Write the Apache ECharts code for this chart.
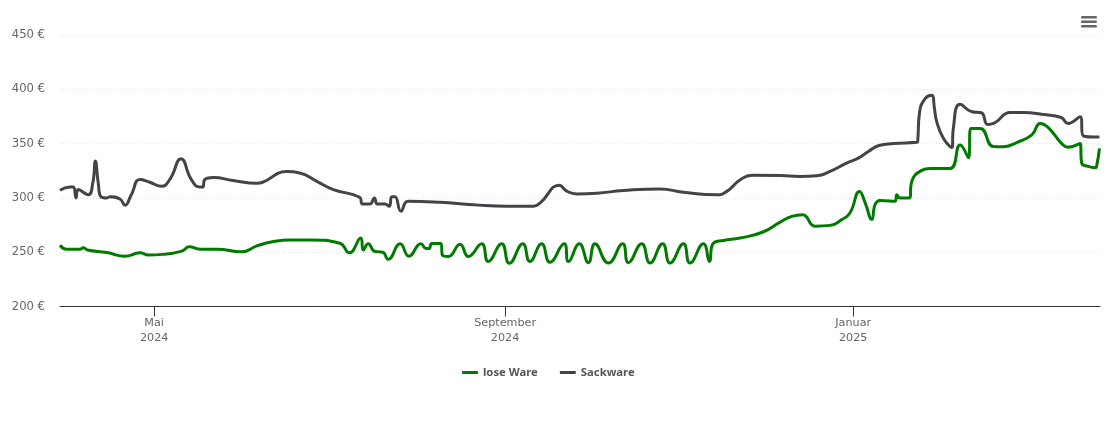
<!DOCTYPE html>
<html>
<head>
<meta charset="utf-8">
<style>
html,body{margin:0;padding:0;background:#fff;}
#chart{width:1110px;height:423px;}
</style>
<script src="https://cdn.jsdelivr.net/npm/echarts@6/dist/echarts.min.js"></script>
</head>
<body>
<div id="chart"></div>
<script>
// x axis runs in days since 2024-03-29
var lastDay = 364.5;

var tickDays = [33, 156, 278];
var tickLabels = ['Mai\n2024', 'September\n2024', 'Januar\n2025'];

var loseDays = [0, 2.3, 7, 8.2, 9.6, 16.4, 22.8, 28, 31, 36, 42.7, 45.3, 49, 55, 63.7, 69, 74.8, 80.6, 87.6, 98,
	101.4, 105.4, 106.3, 108, 110.4, 113.1, 115, 119.2, 122.3, 126.5, 128.3, 129.4, 130.3, 133.5, 134.1, 136.1,
	140.2, 143.1, 147.8, 150.1, 154.8, 157.5, 162.2, 164.7, 168.8, 171.7, 176.7, 178.2, 182, 185.2, 187.5, 192.2,
	197.2, 199.2, 203.9, 206.8, 211.2, 213.8, 218.5, 220.8, 225.5, 227.6, 228.8, 232.5, 238.3, 246.4, 252.4, 256.5,
	260.3, 264.6, 269.9, 274, 276.9, 280.2, 282.2, 284.5, 285.7, 287.4, 292.7, 293.3, 294.4, 297.7, 298.5, 302,
	304.9, 311.9, 315.5, 318.4, 319.2, 322.5, 327.1, 330.5, 335.3, 340.6, 343.5, 346.3, 351.1, 353.3, 357.5, 358.1,
	360.3, 362.8, 363.4, 364.3];
var loseValues = [256.4, 252.8, 252.8, 254, 252, 249.7, 246.3, 249.4, 247.5, 248, 251, 255, 252.8, 252.8, 250.3, 255.8, 259.8, 261.3, 261.3, 258.3,
	249.4, 263, 252, 257.7, 250.6, 250, 243.5, 257.7, 246.3, 257.7, 253.4, 253.4, 258, 258, 247, 246,
	257.4, 246, 257.7, 241.4, 257.7, 239.8, 257.7, 241.4, 257.7, 240.7, 257.7, 241.4, 257.7, 240.4, 257.7, 240,
	257.7, 240.4, 257.7, 240, 257.7, 240, 257.7, 240, 257.7, 241.4, 257.7, 260.8, 263, 268.6, 277.7, 283,
	284.5, 274, 274.7, 280, 286.3, 306, 295.4, 280, 294, 297.6, 297, 303, 300, 300, 315, 325.3,
	327, 327, 348.8, 337, 364, 364, 347.3, 347, 351, 358, 368.6, 365, 350, 346.6, 350, 332,
	329, 327.7, 330.5, 345.7];

var sackDays = [0, 3.5, 4.7, 5.6, 6.4, 9.9, 11.5, 12.4, 13.4, 14.4, 16.4, 17.5, 21, 22.8, 25, 28, 31.5, 35.6, 38.6, 42.4,
	46, 49, 50, 50.8, 53.7, 60.7, 69, 71, 79.4, 84, 90, 95.8, 105, 106, 108.6, 110.2, 111.2, 113.9, 115.4, 116.3,
	117.4, 119.5, 122, 133.2, 144.8, 156.6, 165.9, 168.3, 175, 177.6, 181.1, 188.1, 197.4, 210.3, 218.4, 230.2, 233.7, 238.3, 242.5, 252.4,
	259.4, 265.2, 269.9, 275.7, 279.8, 283.3, 286.8, 292.1, 300.3, 300.6, 301.2, 303.2, 305.7, 306.4, 307.3, 309.6, 312.6, 313.1, 315.5, 319.6,
	322.9, 325.1, 327.2, 333, 337.6, 344.6, 350.9, 353.3, 357.5, 358.7, 364.3];
var sackValues = [307, 310, 310, 300, 307.7, 303, 313.8, 334, 313.8, 301, 300, 301, 299, 293.3, 303, 317, 314.4, 310.7, 317.5, 336,
	317, 310, 310, 317, 318.7, 316, 313.5, 314.4, 324.2, 323, 315.3, 307.7, 300.6, 294.4, 294.4, 300, 294.4, 294.4, 292.3, 301,
	301, 287.7, 297, 296, 293.8, 292.3, 292.3, 295.4, 311.7, 306.2, 303.7, 304.3, 306.8, 308.3, 305.2, 302.8, 306, 316.4, 320.9, 320.7,
	319.8, 320.4, 324.4, 332, 336.6, 342.7, 348, 350, 351.2, 351.8, 377.7, 391.5, 394.5, 383.8, 370, 355, 346.3, 364, 386.3, 379.3,
	378.4, 367.7, 368.6, 378.7, 378.7, 376.8, 374, 368.6, 374.7, 357, 356];

function pairs(days, values) {
	return days.map(function(d, i) { return [d, values[i]]; });
}

var fontName = '"DejaVu Sans", sans-serif';
var chartObj = echarts.init(document.getElementById('chart'));
var option = {
	animation: false,
	backgroundColor: '#fff',
	color: ['#007a00', '#434348'],
	grid: {left: 60, right: 10, top: 35, bottom: 116.5},
	legend: {
		top: 362,
		left: 457,
		icon: 'roundRect',
		itemWidth: 16,
		itemHeight: 3,
		itemGap: 22,
		textStyle: {color: '#555', fontSize: 11.3, fontWeight: 'bold', fontFamily: '"Noto Sans", sans-serif', padding: [-1, 0, 0, 0]}
	},
	xAxis: {
		type: 'value',
		min: 0,
		max: lastDay,
		axisLine: {onZero: false, lineStyle: {color: '#333', width: 1}},
		axisTick: {show: true, length: 10, customValues: tickDays, lineStyle: {color: '#333', width: 1}},
		splitLine: {show: false},
		axisLabel: {
			customValues: tickDays,
			hideOverlap: false,
			color: '#666',
			fontSize: 11.2,
			lineHeight: 15,
			margin: 9,
			fontFamily: fontName,
			formatter: function(value) {
				return tickLabels[tickDays.indexOf(value)] || '';
			}
		}
	},
	yAxis: {
		type: 'value',
		min: 200,
		max: 450,
		interval: 50,
		axisLine: {show: false},
		axisTick: {show: false},
		splitLine: {lineStyle: {color: '#e3e3e3', type: [1, 2], width: 1}},
		axisLabel: {
			color: '#666',
			fontSize: 11.6,
			margin: 15,
			padding: [0, 0, 5, 0],
			fontFamily: fontName,
			formatter: '{value} €'
		}
	},
	graphic: [{
		type: 'group',
		right: 13,
		top: 16,
		children: [0, 4.5, 9].map(function(y) {
			return {
				type: 'rect',
				shape: {x: 0, y: y, width: 16, height: 2.6, r: 1.3},
				style: {fill: '#666'}
			};
		})
	}],
	series: [{
		name: 'lose Ware',
		type: 'line',
		data: pairs(loseDays, loseValues),
		smooth: 0.5,
		showSymbol: false,
		lineStyle: {width: 3}
	}, {
		name: 'Sackware',
		type: 'line',
		data: pairs(sackDays, sackValues),
		smooth: 0.5,
		showSymbol: false,
		lineStyle: {width: 3}
	}]
};
chartObj.setOption(option);
</script>
</body>
</html>
